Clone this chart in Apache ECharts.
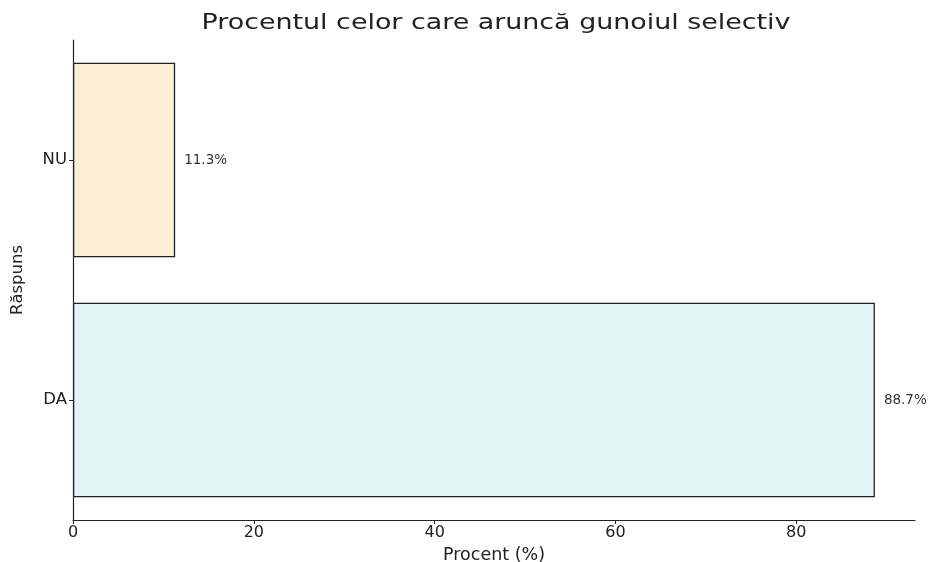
<!DOCTYPE html>
<html>
<head>
<meta charset="utf-8">
<script src="https://cdn.jsdelivr.net/npm/echarts@6/dist/echarts.min.js"></script>
<style>
html, body { margin: 0; padding: 0; background: #fff; }
#main { width: 936px; height: 562px; }
</style>
</head>
<body>
<div id="main"></div>
<script>
"use strict";

var categories = ['DA', 'NU'];
var values = [88.7, 11.3];
var barColors = ['#e2f6f5', '#fcefd3'];
var xTicks = [0, 20, 40, 60, 80];
var titleText = 'Procentul celor care aruncă gunoiul selectiv';

var dom = document.getElementById("main");
var myChart = echarts.init(dom);
var font = 'DejaVu Sans';

var option = {
    backgroundColor: '#fff',
    animation: false,
    // title drawn as graphic text so it can be stretched like the scanned original
    graphic: [
        {
            type: 'text',
            x: 496,
            y: 24,
            scaleX: 1.28,
            style: {
                text: titleText,
                font: 'normal 21px "DejaVu Sans"',
                fill: '#222',
                textAlign: 'center',
                textVerticalAlign: 'middle'
            }
        }
    ],
    grid: {
        left: 73,
        right: 21,
        top: 40,
        bottom: 42,
        outerBoundsMode: 'none',
        containLabel: false
    },
    xAxis: {
        type: 'value',
        min: 0,
        max: 93.135,
        interval: 20,
        name: 'Procent (%)',
        nameLocation: 'middle',
        nameGap: 26,
        nameTextStyle: { fontFamily: font, fontSize: 17.5, color: '#222' },
        axisLine: { show: true, lineStyle: { color: '#222', width: 1.2 } },
        axisTick: { show: true, length: 4, lineStyle: { color: '#222' } },
        splitLine: { show: false },
        axisLabel: {
            fontFamily: font, fontSize: 16, color: '#222', margin: 5,
            formatter: function (v) { return xTicks.indexOf(v) >= 0 ? String(v) : ''; },
            showMaxLabel: false
        }
    },
    yAxis: {
        type: 'category',
        data: categories,
        name: 'Răspuns',
        nameLocation: 'middle',
        nameGap: 47,
        nameTextStyle: { fontFamily: font, fontSize: 16.5, color: '#222' },
        axisLine: { show: true, lineStyle: { color: '#222', width: 1.2 } },
        axisTick: { show: true, length: 4, alignWithLabel: true, lineStyle: { color: '#222' } },
        axisLabel: { fontFamily: font, fontSize: 16.5, color: '#222', margin: 6 }
    },
    series: [
        {
            type: 'bar',
            barWidth: '81%',
            data: values.map(function (v, i) {
                return { value: v, itemStyle: { color: barColors[i] } };
            }),
            itemStyle: { borderColor: '#222', borderWidth: 1.3 },
            label: {
                show: true,
                position: 'right',
                distance: 9,
                fontFamily: font,
                fontSize: 13.5,
                color: '#333',
                formatter: function (p) { return p.value.toFixed(1) + '%'; }
            }
        }
    ]
};

myChart.setOption(option);
</script>
</body>
</html>
